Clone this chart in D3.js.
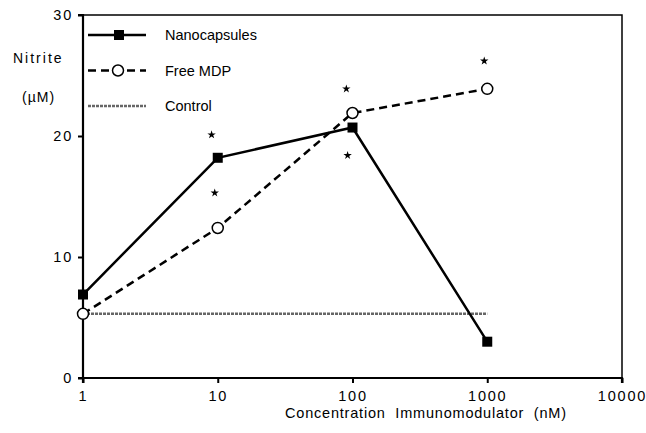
<!DOCTYPE html>
<html>
<head>
<meta charset="utf-8">
<script src="https://cdn.jsdelivr.net/npm/d3@7"></script>
<style>
  body { margin: 0; background: #fff; }
  svg text { font-family: "Liberation Sans", Arial, sans-serif; fill: #000; }
</style>
</head>
<body>
<div id="chart"></div>
<script>
// data
const concentrations = [1, 10, 100, 1000];
const nanocapsules = [6.9, 18.2, 20.7, 3.0];
const freeMDP = [5.3, 12.4, 21.9, 23.9];
const controlX = [1, 1000];
const controlY = [5.3, 5.3];
const starX = [9, 9.5, 90, 92, 950];
const starY = [20.1, 15.3, 23.9, 18.4, 26.2];
const xTicks = [1, 10, 100, 1000, 10000];
const yTicks = [0, 10, 20, 30];

const width = 646, height = 433;
const margin = { top: 15, right: 24, bottom: 55, left: 83 };

const svg = d3.select("#chart").append("svg")
  .attr("width", width)
  .attr("height", height);

const x = d3.scaleLog()
  .domain([1, 10000])
  .range([margin.left, width - margin.right]);

const y = d3.scaleLinear()
  .domain([0, 30])
  .range([height - margin.bottom, margin.top]);

// frame top + right (thin)
svg.append("path")
  .attr("d", `M${x(1)},${y(30)}H${x(10000)}V${y(0)}`)
  .attr("fill", "none")
  .attr("stroke", "#000")
  .attr("stroke-width", 1.5);

const xAxis = svg.append("g")
  .attr("transform", `translate(0,${y(0)})`)
  .call(d3.axisBottom(x).tickValues(xTicks).tickFormat(d3.format("d")).tickSize(5).tickPadding(8));

const yAxis = svg.append("g")
  .attr("transform", `translate(${x(1)},0)`)
  .call(d3.axisLeft(y).tickValues(yTicks).tickSize(5).tickPadding(5));

[xAxis, yAxis].forEach(g => {
  g.select(".domain").attr("stroke-width", 2.2);
  g.selectAll(".tick line").attr("stroke-width", 2);
  g.selectAll(".tick text")
    .attr("font-size", 14.5)
    .style("letter-spacing", "1.8px")
    .attr("font-family", "Liberation Sans, Arial, sans-serif");
});
yAxis.select(".domain").attr("d", `M-5,${y(0)}H0V${y(30)}H-5`);
xAxis.select(".domain").attr("d", `M${x(1)},5V0H${x(10000)}V5`);

// control line
svg.append("path")
  .datum(controlX.map((d, i) => [d, controlY[i]]))
  .attr("fill", "none")
  .attr("stroke", "#666")
  .attr("stroke-width", 2.5)
  .attr("stroke-dasharray", "3,1")
  .attr("d", d3.line().x(d => x(d[0])).y(d => y(d[1])));

// free MDP
const mdp = concentrations.map((d, i) => [d, freeMDP[i]]);
svg.append("path")
  .datum(mdp)
  .attr("fill", "none")
  .attr("stroke", "#000")
  .attr("stroke-width", 2.5)
  .attr("stroke-dasharray", "8,5")
  .attr("d", d3.line().x(d => x(d[0])).y(d => y(d[1])));

// nanocapsules
const nano = concentrations.map((d, i) => [d, nanocapsules[i]]);
svg.append("path")
  .datum(nano)
  .attr("fill", "none")
  .attr("stroke", "#000")
  .attr("stroke-width", 2.5)
  .attr("d", d3.line().x(d => x(d[0])).y(d => y(d[1])));

svg.selectAll("circle.mdp")
  .data(mdp)
  .join("circle")
  .attr("class", "mdp")
  .attr("cx", d => x(d[0]))
  .attr("cy", d => y(d[1]))
  .attr("r", 5.5)
  .attr("fill", "#fff")
  .attr("stroke", "#000")
  .attr("stroke-width", 1.5);

svg.selectAll("rect.nano")
  .data(nano)
  .join("rect")
  .attr("class", "nano")
  .attr("x", d => x(d[0]) - 5)
  .attr("y", d => y(d[1]) - 5)
  .attr("width", 10)
  .attr("height", 10)
  .attr("fill", "#000");

// significance stars
svg.selectAll("path.star")
  .data(starX.map((d, i) => [d, starY[i]]))
  .join("path")
  .attr("class", "star")
  .attr("transform", d => `translate(${x(d[0])},${y(d[1])})`)
  .attr("d", d3.symbol(d3.symbolStar, 22))
  .attr("fill", "#000");

// legend
const legend = [
  { name: "Nanocapsules", dash: null, color: "#000", mark: "square" },
  { name: "Free MDP", dash: "8,5", color: "#000", mark: "circle" },
  { name: "Control", dash: "3,1", color: "#666", mark: null }
];
const lg = svg.append("g");
legend.forEach((d, i) => {
  const ly = 35 + i * 35.5;
  lg.append("line")
    .attr("x1", 88).attr("x2", 146)
    .attr("y1", ly).attr("y2", ly)
    .attr("stroke", d.color)
    .attr("stroke-width", 2.5)
    .attr("stroke-dasharray", d.dash);
  if (d.mark === "square") {
    lg.append("rect").attr("x", 114).attr("y", ly - 5).attr("width", 10).attr("height", 10).attr("fill", "#000");
  } else if (d.mark === "circle") {
    lg.append("circle").attr("cx", 118).attr("cy", ly).attr("r", 5.5)
      .attr("fill", "#fff").attr("stroke", "#000").attr("stroke-width", 1.5);
  }
  lg.append("text")
    .attr("x", 165).attr("y", ly + 5)
    .attr("font-size", 14.5)
    .text(d.name);
});

// y label
svg.append("text")
  .attr("x", 13).attr("y", 63)
  .attr("font-size", 14)
  .style("letter-spacing", "2px")
  .text("Nitrite");
svg.append("text")
  .attr("x", 22).attr("y", 102)
  .attr("font-size", 14)
  .style("letter-spacing", "1px")
  .text("(\u00B5M)");

// x label
svg.append("text")
  .attr("x", 285).attr("y", 418)
  .attr("font-size", 14.5)
  .style("letter-spacing", "0.8px")
  .attr("xml:space", "preserve")
  .style("white-space", "pre")
  .text("Concentration  Immunomodulator  (nM)");
</script>
</body>
</html>
